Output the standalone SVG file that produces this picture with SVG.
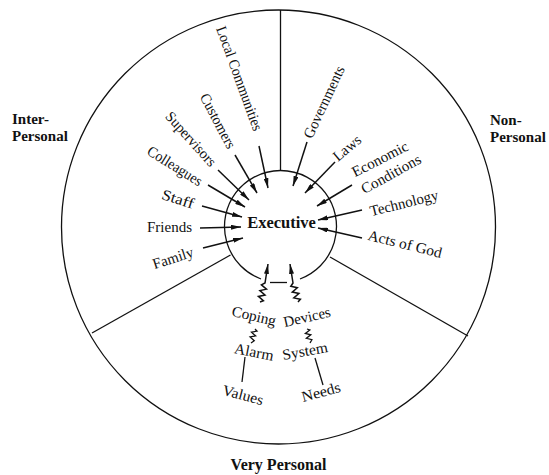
<svg xmlns="http://www.w3.org/2000/svg" width="549" height="475" viewBox="0 0 549 475">
<style>
.ln{fill:none;stroke:#111;stroke-width:1.3}
.ar{fill:none;stroke:#111;stroke-width:1.5;marker-end:url(#ah)}
.lb{font-family:"Liberation Serif",serif;font-size:15px;fill:#111}
.bd{font-family:"Liberation Serif",serif;font-size:15px;font-weight:bold;fill:#111}
</style>
<defs>
<marker id="ah" viewBox="0 0 10 5" refX="10" refY="2.5" markerWidth="10" markerHeight="5" markerUnits="userSpaceOnUse" orient="auto">
<path d="M0,0 L10,2.5 L0,5 z" fill="#111"/>
</marker>
</defs>
<rect width="549" height="475" fill="#fff"/>
<g id="frame">
<circle class="ln" cx="278.5" cy="227" r="217"/>
<path class="ln" d="M261,279 A56,56 0 1 1 300,279"/>
<line class="ln" x1="270" y1="282.5" x2="287" y2="282.5"/>
<line class="ln" x1="280.5" y1="10" x2="280.5" y2="170.5"/>
<line class="ln" x1="230.5" y1="255" x2="92" y2="333"/>
<line class="ln" x1="330" y1="257" x2="468" y2="336"/>
</g>
<g id="sector-labels">
<text class="bd" x="12" y="124">Inter-</text>
<text class="bd" x="12" y="141">Personal</text>
<text class="bd" x="490" y="125">Non-</text>
<text class="bd" x="490" y="142">Personal</text>
<text class="bd" x="278.5" y="470" text-anchor="middle" style="font-size:16px">Very Personal</text>
</g>
<g id="executive"><text class="bd" x="281.5" y="227.5" text-anchor="middle" style="font-size:16.5px">Executive</text></g>
<g id="local-communities"><text class="lb" transform="translate(239.5,78.5) rotate(70)" y="5" text-anchor="middle" textLength="110" lengthAdjust="spacingAndGlyphs">Local Communities</text></g>
<g id="customers"><text class="lb" transform="translate(218,121) rotate(62)" y="5" text-anchor="middle" textLength="60" lengthAdjust="spacingAndGlyphs">Customers</text></g>
<g id="supervisors"><text class="lb" transform="translate(191,139) rotate(48)" y="5" text-anchor="middle" textLength="68" lengthAdjust="spacingAndGlyphs">Supervisors</text></g>
<g id="colleagues"><text class="lb" transform="translate(175,166) rotate(32)" y="5" text-anchor="middle" textLength="62" lengthAdjust="spacingAndGlyphs">Colleagues</text></g>
<g id="staff"><text class="lb" transform="translate(178,199) rotate(18)" y="5" text-anchor="middle" textLength="33" lengthAdjust="spacingAndGlyphs">Staff</text></g>
<g id="friends"><text class="lb" transform="translate(169.5,227)" y="5" text-anchor="middle" textLength="45" lengthAdjust="spacingAndGlyphs">Friends</text></g>
<g id="family"><text class="lb" transform="translate(173,258) rotate(-18)" y="5" text-anchor="middle" textLength="42" lengthAdjust="spacingAndGlyphs">Family</text></g>
<g id="governments"><text class="lb" transform="translate(324,102) rotate(-65)" y="5" text-anchor="middle" textLength="78" lengthAdjust="spacingAndGlyphs">Governments</text></g>
<g id="laws"><text class="lb" transform="translate(347,148) rotate(-40)" y="5" text-anchor="middle" textLength="32" lengthAdjust="spacingAndGlyphs">Laws</text></g>
<g id="economic-conditions">
<text class="lb" transform="translate(380,159) rotate(-27)" y="5" text-anchor="middle" textLength="61" lengthAdjust="spacingAndGlyphs">Economic</text>
<text class="lb" transform="translate(391,174) rotate(-29)" y="5" text-anchor="middle" textLength="66" lengthAdjust="spacingAndGlyphs">Conditions</text>
</g>
<g id="technology"><text class="lb" transform="translate(404,203) rotate(-14)" y="5" text-anchor="middle" textLength="70" lengthAdjust="spacingAndGlyphs">Technology</text></g>
<g id="acts-of-god"><text class="lb" transform="translate(405,244) rotate(14)" y="5" text-anchor="middle" textLength="76" lengthAdjust="spacingAndGlyphs">Acts of God</text></g>
<g id="coping-devices">
<text class="lb" transform="translate(254,316) rotate(13)" y="5" text-anchor="middle" textLength="45" lengthAdjust="spacingAndGlyphs">Coping</text>
<text class="lb" transform="translate(307,317) rotate(-13)" y="5" text-anchor="middle" textLength="48" lengthAdjust="spacingAndGlyphs">Devices</text>
</g>
<g id="alarm-system">
<text class="lb" transform="translate(254,352) rotate(11)" y="5" text-anchor="middle" textLength="40" lengthAdjust="spacingAndGlyphs">Alarm</text>
<text class="lb" transform="translate(305,351) rotate(-10)" y="5" text-anchor="middle" textLength="46" lengthAdjust="spacingAndGlyphs">System</text>
</g>
<g id="values"><text class="lb" transform="translate(243,395) rotate(15)" y="5" text-anchor="middle" textLength="42" lengthAdjust="spacingAndGlyphs">Values</text></g>
<g id="needs"><text class="lb" transform="translate(321,392) rotate(-15)" y="5" text-anchor="middle" textLength="40" lengthAdjust="spacingAndGlyphs">Needs</text></g>
<g id="connectors">
<line class="ar" x1="259" y1="146" x2="268" y2="188"/>
<line class="ar" x1="235" y1="155" x2="257" y2="193"/>
<line class="ar" x1="218" y1="170" x2="249" y2="200"/>
<line class="ar" x1="208" y1="185" x2="245" y2="207"/>
<line class="ar" x1="202" y1="206" x2="242" y2="217"/>
<line class="ar" x1="200" y1="228" x2="241" y2="227"/>
<line class="ar" x1="203" y1="248" x2="243" y2="238"/>
<line class="ar" x1="307" y1="142" x2="293" y2="186"/>
<line class="ar" x1="335" y1="162" x2="305" y2="193"/>
<line class="ar" x1="352" y1="185" x2="317" y2="206"/>
<line class="ar" x1="362" y1="210" x2="318" y2="220"/>
<line class="ar" x1="362" y1="238" x2="318" y2="228"/>
<polyline class="ar" points="260,302 263.4,300.8 258.4,296.4 265,295 259.9,290.6 266.5,289.2 261.4,284.8 265,283 268,264"/>
<polyline class="ar" points="298,302 300.4,299.3 293.8,297.9 298.9,293.5 292.3,292.1 297.3,287.7 290.8,286.3 293,283 290,264"/>
<polyline class="ln" points="255,329 257,331.1 251.5,332.2 255.6,335.9 250.1,336.9 254.25,340.7 251,343"/>
<polyline class="ln" points="307,329 309.8,330 305.4,333.4 310.8,334.8 306.4,338.3 311.9,339.7 310,343"/>
<line class="ln" x1="245" y1="357" x2="242" y2="382"/>
<line class="ln" x1="315" y1="358" x2="323" y2="385"/>
</g>
</svg>
